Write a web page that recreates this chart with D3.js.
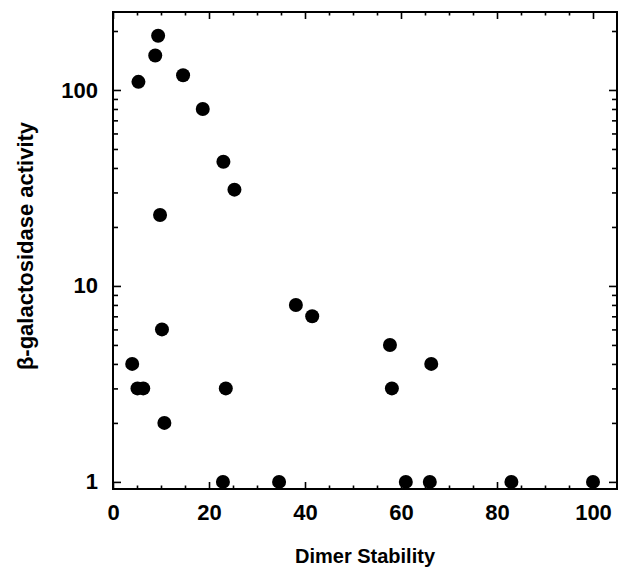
<!DOCTYPE html>
<html><head><meta charset="utf-8">
<script src="https://cdn.jsdelivr.net/npm/d3@7"></script>
<style>body{margin:0;background:#fff}svg{display:block}text{font-family:"Liberation Sans",Arial,Helvetica,sans-serif;fill:#000}</style>
</head><body><svg id="c" width="619" height="571"></svg>
<script>
const dimerStability = [9.4, 8.8, 14.6, 5.3, 18.7, 23.0, 25.3, 9.8, 38.1, 41.5, 10.2, 57.7, 4.0, 66.3, 5.1, 6.3, 23.5, 58.1, 10.7, 22.9, 34.6, 61.0, 66.0, 83.0, 100.0];
const galActivity    = [189, 150, 119, 110, 80, 43, 31, 23, 8, 7, 6, 5, 4, 4, 3, 3, 3, 3, 2, 1, 1, 1, 1, 1, 1];
const xTickLabels = [0, 20, 40, 60, 80, 100];
const yTickLabels = [1, 10, 100];
const xLabel = "Dimer Stability";
const yLabel = "β-galactosidase activity";

const svg = d3.select("#c");
const m = {l:113, r:617, t:12, b:489};
const x = d3.scaleLinear().domain([0, 105]).range([m.l, m.r]);
const y = d3.scaleLog().domain([0.92, 250]).range([m.b, m.t]);

const xMinor = d3.range(0, 105, 5).filter(v => v % 20 !== 0);
const yMinor = [2,3,4,5,6,7,8,9,20,30,40,50,60,70,80,90,200];

const g = svg.append("g");
function axisG(axis, tr){ const a = g.append("g").attr("transform", tr).call(axis); a.select(".domain").remove(); a.selectAll("line").attr("stroke","#000").attr("stroke-width",1.6); return a; }

axisG(d3.axisBottom(x).tickValues(xTickLabels).tickSizeInner(-7).tickSizeOuter(0).tickPadding(15).tickFormat(d3.format("d")), `translate(0,${m.b})`)
  .selectAll("text").attr("font-size", 22).attr("font-weight", "bold");
axisG(d3.axisBottom(x).tickValues(xMinor).tickSizeInner(-3.5).tickSizeOuter(0).tickFormat(""), `translate(0,${m.b})`);
axisG(d3.axisTop(x).tickValues(xTickLabels).tickSizeInner(-7).tickSizeOuter(0).tickFormat(""), `translate(0,${m.t})`);
axisG(d3.axisTop(x).tickValues(xMinor).tickSizeInner(-3.5).tickSizeOuter(0).tickFormat(""), `translate(0,${m.t})`);
axisG(d3.axisLeft(y).tickValues(yTickLabels).tickSizeInner(-8).tickSizeOuter(0).tickPadding(15).tickFormat(d3.format("d")), `translate(${m.l},0)`)
  .selectAll("text").attr("font-size", 22).attr("font-weight", "bold");
axisG(d3.axisLeft(y).tickValues(yMinor).tickSizeInner(-5).tickSizeOuter(0).tickFormat(""), `translate(${m.l},0)`);
axisG(d3.axisRight(y).tickValues(yTickLabels).tickSizeInner(-8).tickSizeOuter(0).tickFormat(""), `translate(${m.r},0)`);
axisG(d3.axisRight(y).tickValues(yMinor).tickSizeInner(-5).tickSizeOuter(0).tickFormat(""), `translate(${m.r},0)`);

g.append("rect").attr("x", m.l).attr("y", m.t).attr("width", m.r-m.l).attr("height", m.b-m.t)
  .attr("fill","none").attr("stroke","#000").attr("stroke-width",2);

g.append("g").selectAll("circle").data(dimerStability.map((d,i)=>[d, galActivity[i]])).join("circle")
  .attr("cx", d => x(d[0])).attr("cy", d => y(d[1])).attr("r", 7).attr("fill","#000");

svg.append("text").attr("x", (m.l+m.r)/2).attr("y", 563).attr("text-anchor","middle").attr("font-size", 20).attr("font-weight","bold").text(xLabel);
svg.append("text").attr("transform", `translate(33,246) rotate(-90)`).attr("text-anchor","middle").attr("font-size", 22).attr("font-weight","bold").text(yLabel);
</script></body></html>
